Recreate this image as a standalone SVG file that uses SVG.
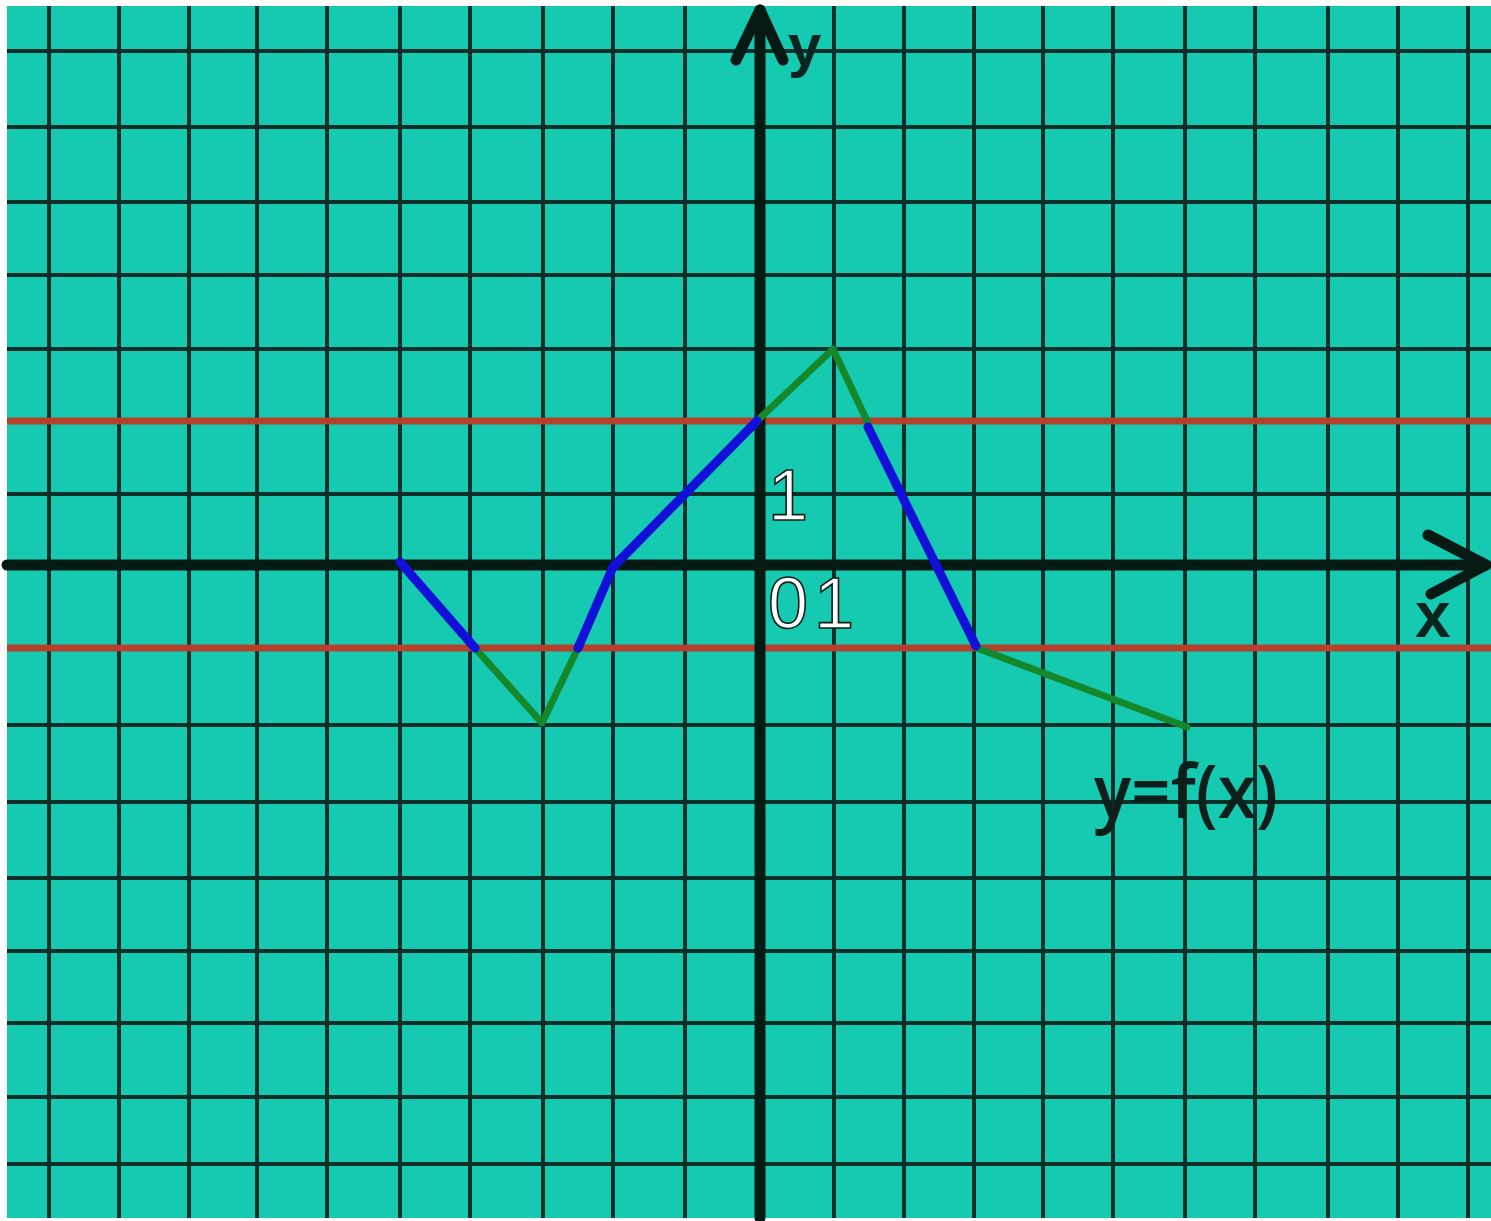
<svg xmlns="http://www.w3.org/2000/svg" width="1491" height="1221" viewBox="0 0 1491 1221">
<style>
.grid line{stroke:#0a2f28;stroke-width:4}
.axis{stroke:#061a14;stroke-width:11;fill:none;stroke-linecap:round;stroke-linejoin:round}
.red{stroke:#b5402c;stroke-width:7}
.blue{stroke:#1010d8;stroke-width:9;fill:none;stroke-linecap:round;stroke-linejoin:round}
.green{stroke:#15882a;stroke-width:7;fill:none;stroke-linecap:round;stroke-linejoin:round}
.num{font-family:"Liberation Sans",Arial,sans-serif;font-size:72px;fill:#ffffff;stroke:#0a1a14;stroke-width:1.6}
.axlbl{font-family:"Liberation Sans",Arial,sans-serif;font-weight:bold;fill:#0a2420}
.fn{font-family:"Open Sans","Noto Sans",sans-serif;font-size:75px;font-weight:600;fill:#0d1f1a}
</style>
<rect x="0" y="0" width="1491" height="1221" fill="#ffffff"/>
<rect x="7" y="6" width="1484" height="1212" fill="#16c9b1"/>
<g id="grid" class="grid">
<line x1="49" y1="6" x2="49" y2="1218"/>
<line x1="119" y1="6" x2="119" y2="1218"/>
<line x1="189" y1="6" x2="189" y2="1218"/>
<line x1="257" y1="6" x2="257" y2="1218"/>
<line x1="327" y1="6" x2="327" y2="1218"/>
<line x1="400" y1="6" x2="400" y2="1218"/>
<line x1="470" y1="6" x2="470" y2="1218"/>
<line x1="543" y1="6" x2="543" y2="1218"/>
<line x1="613" y1="6" x2="613" y2="1218"/>
<line x1="685" y1="6" x2="685" y2="1218"/>
<line x1="834" y1="6" x2="834" y2="1218"/>
<line x1="904" y1="6" x2="904" y2="1218"/>
<line x1="974" y1="6" x2="974" y2="1218"/>
<line x1="1043" y1="6" x2="1043" y2="1218"/>
<line x1="1113" y1="6" x2="1113" y2="1218"/>
<line x1="1185" y1="6" x2="1185" y2="1218"/>
<line x1="1255" y1="6" x2="1255" y2="1218"/>
<line x1="1328" y1="6" x2="1328" y2="1218"/>
<line x1="1398" y1="6" x2="1398" y2="1218"/>
<line x1="1468" y1="6" x2="1468" y2="1218"/>
<line x1="7" y1="51" x2="1491" y2="51"/>
<line x1="7" y1="127" x2="1491" y2="127"/>
<line x1="7" y1="202" x2="1491" y2="202"/>
<line x1="7" y1="275" x2="1491" y2="275"/>
<line x1="7" y1="349" x2="1491" y2="349"/>
<line x1="7" y1="494" x2="1491" y2="494"/>
<line x1="7" y1="725" x2="1491" y2="725"/>
<line x1="7" y1="802" x2="1491" y2="802"/>
<line x1="7" y1="878" x2="1491" y2="878"/>
<line x1="7" y1="951" x2="1491" y2="951"/>
<line x1="7" y1="1023" x2="1491" y2="1023"/>
<line x1="7" y1="1097" x2="1491" y2="1097"/>
<line x1="7" y1="1164" x2="1491" y2="1164"/>
</g>
<g id="levels">
<line class="red" x1="7" y1="421" x2="1491" y2="421"/>
<line class="red" x1="7" y1="648" x2="1491" y2="648"/>
</g>
<g id="axes">
<line class="axis" x1="7" y1="565" x2="1486" y2="565" stroke-linecap="butt"/>
<line class="axis" x1="760" y1="10" x2="760" y2="1218" stroke-linecap="butt"/>
<polyline class="axis" points="1428,535 1486,565 1431,594"/>
<polyline class="axis" points="736,60 760,10 783,60"/>
</g>
<g id="graph">
<polyline class="green" points="475,648 542,723 578,648"/>
<polyline class="green" points="757,421 833,349 868,423"/>
<polyline class="green" points="977,648 1187,727"/>
<polyline class="blue" points="400,562 475,648"/>
<polyline class="blue" points="578,648 613,567 757,421"/>
<polyline class="blue" points="868,427 976,646"/>
</g>
<g id="labels">
<text class="axlbl" x="788" y="66" font-size="60">y</text>
<text class="axlbl" x="1415" y="637" font-size="64">x</text>
<text class="num" x="768" y="520">1</text>
<text class="num" x="768" y="628">0</text>
<text class="num" x="814" y="628">1</text>
<text class="fn" x="1094" y="818" textLength="184" lengthAdjust="spacingAndGlyphs">y=f(x)</text>
</g>
</svg>
